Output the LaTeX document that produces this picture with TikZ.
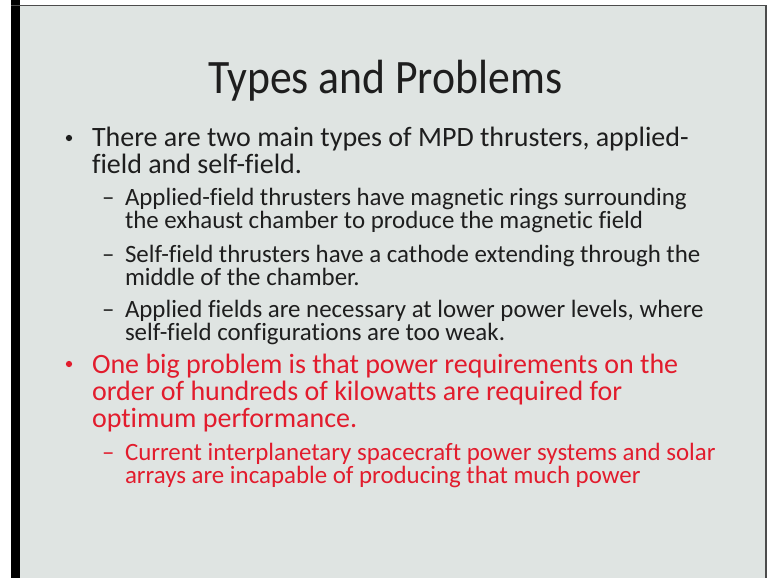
\documentclass[tikz,border=0pt]{standalone}
\usepackage{fontspec}
\setmainfont{Carlito}[Ligatures=NoCommon]
\newfontfamily\titlefont{Carlito}[Ligatures=NoCommon, FakeStretch=0.91]
\definecolor{slidebg}{RGB}{223,228,226}
\definecolor{txt}{RGB}{30,30,30}
\definecolor{redtxt}{RGB}{226,28,45}
\begin{document}
\begin{tikzpicture}[x=1pt,y=-1pt,
  every node/.style={inner sep=0pt, outer sep=0pt, anchor=base west},
  lvlone/.style={font=\fontsize{28}{29}\selectfont},
  lvltwo/.style={font=\fontsize{24.9}{26}\selectfont},
  ttl/.style={font=\titlefont\fontsize{48}{50}\selectfont, text=txt},
  dot/.style={circle, minimum size=6.3pt, anchor=center}]
\useasboundingbox (0,0) rectangle (767,578);
\fill[white] (0,0) rectangle (767,578);
\fill[slidebg] (20,6) rectangle (765,578);
\fill[black] (11,0) rectangle (20,578);
\fill[black!70] (11,5) rectangle (767,6.5);
\fill[black!70] (765,5) rectangle (767,578);
% title
\node[ttl] (title) at (208,93) {Types and Problems};
% first bullet
\node[dot,fill=txt] (b1) at (69,138) {};
\node[lvlone,text=txt] (l1a) at (92,146) {There are two main types of MPD thrusters, applied-};
\node[lvlone,text=txt] (l1b) at (92,173) {field and self-field.};
% sub bullets
\node[lvltwo,text=txt] (d1) at (102,205) {–};
\node[lvltwo,text=txt] (s1a) at (125,205) {Applied-field thrusters have magnetic rings surrounding};
\node[lvltwo,text=txt] (s1b) at (125,228) {the exhaust chamber to produce the magnetic field};
\node[lvltwo,text=txt] (d2) at (102,262) {–};
\node[lvltwo,text=txt] (s2a) at (125,262) {Self-field thrusters have a cathode extending through the};
\node[lvltwo,text=txt] (s2b) at (125,285) {middle of the chamber.};
\node[lvltwo,text=txt] (d3) at (102,317) {–};
\node[lvltwo,text=txt] (s3a) at (125,317) {Applied fields are necessary at lower power levels, where};
\node[lvltwo,text=txt] (s3b) at (125,340) {self-field configurations are too weak.};
% red bullet
\node[dot,fill=redtxt] (b2) at (69,364) {};
\node[lvlone,text=redtxt] (r1a) at (92,373) {One big problem is that power requirements on the};
\node[lvlone,text=redtxt] (r1b) at (92,400) {order of hundreds of kilowatts are required for};
\node[lvlone,text=redtxt] (r1c) at (92,427) {optimum performance.};
\node[lvltwo,text=redtxt] (d4) at (102,460) {–};
\node[lvltwo,text=redtxt] (r2a) at (125,460) {Current interplanetary spacecraft power systems and solar};
\node[lvltwo,text=redtxt] (r2b) at (125,483) {arrays are incapable of producing that much power};
\end{tikzpicture}
\end{document}
